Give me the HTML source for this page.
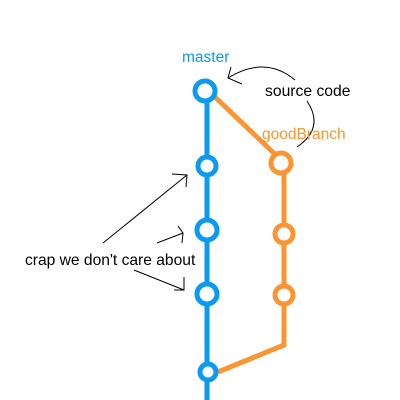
<!DOCTYPE html>
<html><head><style>body{margin:0;background:#fff}svg{display:block}</style></head><body>
<svg width="400" height="400" xmlns="http://www.w3.org/2000/svg" font-family="Liberation Sans, sans-serif">
<rect width="400" height="400" fill="#fff"/>
<g stroke="#fb9433" stroke-width="5" fill="none">
<line x1="215" y1="97" x2="281" y2="160"/>
<polyline points="284,163 284,345 218,372"/>
</g>
<line x1="207" y1="91" x2="207" y2="400" stroke="#0a9af2" stroke-width="5"/>
<g stroke="#0a9af2" stroke-width="5" fill="#fff">
<circle cx="205" cy="91" r="10"/>
<circle cx="207" cy="166" r="9"/>
<circle cx="207" cy="230" r="10"/>
<circle cx="207" cy="294" r="10"/>
<circle cx="208" cy="372" r="8"/>
</g>
<g stroke="#fb9433" stroke-width="5" fill="#fff">
<circle cx="281" cy="163" r="10"/>
<circle cx="284" cy="234" r="9"/>
<circle cx="284" cy="295" r="9"/>
</g>
<g stroke="#000" stroke-width="1" fill="none">
<path d="M295,80 Q265,55 228,78"/>
<path d="M231,67 L228,78 L242,84"/>
<path d="M307,101 Q325,128 297,147"/>
<path d="M103,243 L187,175 M172,174 L187,175 L186,187"/>
<path d="M157,243 L183,233 M178,226 L183,233 L182,243"/>
<path d="M134,270 L184,290 M174,290 L184,290 L184,277"/>
</g>
<text x="182" y="62" font-size="15.5" fill="#0a9af2">master</text>
<text x="265" y="96" font-size="15.7" fill="#000">source code</text>
<text x="262" y="139" font-size="15.5" fill="#fb9433">goodBranch</text>
<text x="25" y="265" font-size="15.6" fill="#000">crap we don't care about</text>
</svg>
</body></html>
